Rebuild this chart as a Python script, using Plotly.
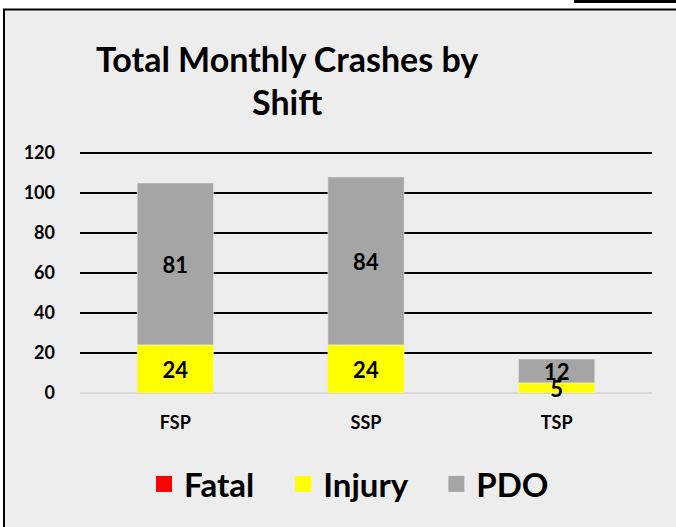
import plotly.graph_objects as go

categories = ["FSP", "SSP", "TSP"]
fatal = [0, 0, 0]
injury = [24, 24, 5]
pdo = [81, 84, 12]
y_ticks = [0, 20, 40, 60, 80, 100, 120]
series_names = ["Fatal", "Injury", "PDO"]
series_colors = ["#FF0000", "#FFFF00", "#A5A5A5"]

W, H = 676, 527
L, R, T, B = 80, 24, 151, 134
pw, ph = W - L - R, H - T - B

def px(x):
    return (x - L) / pw

def py(y):
    return (H - B - y) / ph

FONT = "Lato"
LBL = dict(size=22, color="black", family=FONT, weight="bold")

# stacked bases (computed from the data)
injury_base = list(fatal)
pdo_base = [f + i for f, i in zip(fatal, injury)]

fig = go.Figure()
# draw PDO first so Injury labels sit on top of it
fig.add_trace(go.Bar(name="Fatal", x=categories, y=fatal, marker_color=series_colors[0],
                     width=0.4, showlegend=False, textposition="none"))
fig.add_trace(go.Bar(name="PDO", x=categories, y=pdo, base=pdo_base,
                     marker_color=series_colors[2], width=0.4, showlegend=False,
                     text=pdo, textposition="inside", insidetextanchor="middle",
                     constraintext="none", textangle=0, textfont=LBL, cliponaxis=False))
fig.add_trace(go.Bar(name="Injury", x=categories, y=injury, base=injury_base,
                     marker_color=series_colors[1], width=0.4, showlegend=False,
                     text=injury, textposition="inside", insidetextanchor="middle",
                     constraintext="none", textangle=0, textfont=LBL, cliponaxis=False))
# legend entries (square swatches)
NB = "\u00a0"
for k, (name, col) in enumerate(zip(series_names, series_colors)):
    label = name + (NB * 3 if k < len(series_names) - 1 else "")
    fig.add_trace(go.Scatter(name=label, x=[None], y=[None], mode="markers",
                             marker=dict(symbol="square", size=20, color=col),
                             showlegend=True))

fig.update_layout(
    barmode="overlay",
    width=W, height=H,
    margin=dict(l=L, r=R, t=T, b=B),
    paper_bgcolor="white",
    plot_bgcolor="rgba(0,0,0,0)",
    font=dict(family=FONT, color="black"),
    showlegend=True,
    legend=dict(orientation="h", x=px(349), xanchor="center", y=py(484), yanchor="middle",
                font=dict(size=33, family=FONT, weight="bold"), bgcolor="rgba(0,0,0,0)",
                itemsizing="trace", traceorder="normal"),
    xaxis=dict(showline=False, ticks="", tickfont=dict(size=18, family=FONT, weight="bold"),
               ticklabelstandoff=17),
    yaxis=dict(range=[0, 121], tickvals=y_ticks, showgrid=True, gridcolor="black",
               gridwidth=1.5, zeroline=True, zerolinecolor="#D9D9D9", zerolinewidth=2,
               tickfont=dict(size=18, family=FONT, weight="bold"), ticklabelstandoff=24,
               showline=False, ticks=""),
    shapes=[
        dict(type="rect", xref="paper", yref="paper", x0=px(4), x1=px(690), y0=py(9.5), y1=py(540),
             fillcolor="#EDEDED", line=dict(color="black", width=2), layer="below"),
        dict(type="rect", xref="paper", yref="paper", x0=px(574), x1=px(680), y0=py(0), y1=py(3),
             fillcolor="black", line=dict(width=0), layer="below"),
    ],
    annotations=[
        dict(text="Total Monthly Crashes by", xref="paper", yref="paper", x=px(287), y=py(58),
             xanchor="center", yanchor="middle", showarrow=False,
             font=dict(size=34, family=FONT, weight="bold")),
        dict(text="Shift", xref="paper", yref="paper", x=px(287), y=py(102),
             xanchor="center", yanchor="middle", showarrow=False,
             font=dict(size=34, family=FONT, weight="bold")),
    ],
)

fig.write_html("out.html", config={"displayModeBar": False},
               post_script="document.body.style.margin='0px';")
